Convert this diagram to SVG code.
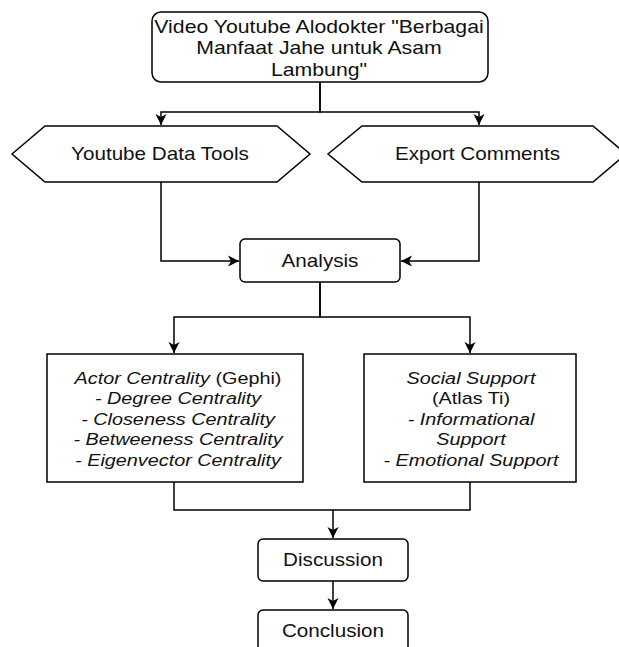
<svg xmlns="http://www.w3.org/2000/svg" width="619" height="647" viewBox="0 0 619 647">
<defs>
<style>
.box{fill:#fff;stroke:#000;stroke-width:1.5}
.ln{fill:none;stroke:#000;stroke-width:1.5}
.t{font-family:"Liberation Sans",Arial,Helvetica,sans-serif;font-size:17.5px;fill:#111;text-anchor:middle}
.big{font-size:18px}
.sm{font-size:16.8px}
.i{font-style:italic}
</style>
<marker id="arr" markerUnits="userSpaceOnUse" markerWidth="12" markerHeight="12" viewBox="0 0 12 12" refX="11" refY="6" orient="auto">
<path d="M0,0.5 L11,6 L0,11.5 L3,6 Z" fill="#000"/>
</marker>
</defs>
<rect width="619" height="647" fill="#fff"/>
<g id="connectors">
<path class="ln" d="M320,82 V112 H161 V125" marker-end="url(#arr)"/>
<path class="ln" d="M320,82 V112 H479 V125" marker-end="url(#arr)"/>
<path class="ln" d="M161,182 V261 H239" marker-end="url(#arr)"/>
<path class="ln" d="M479,182 V261 H401" marker-end="url(#arr)"/>
<path class="ln" d="M320,282 V317 H174 V353" marker-end="url(#arr)"/>
<path class="ln" d="M320,282 V317 H470 V353" marker-end="url(#arr)"/>
<path class="ln" d="M174,482 V510 H333 V538" marker-end="url(#arr)"/>
<path class="ln" d="M470,482 V510 H333"/>
<path class="ln" d="M333,581 V609" marker-end="url(#arr)"/>
</g>
<g id="video">
<rect class="box" x="152" y="12" width="336" height="70" rx="9"/>
<text class="t big" transform="translate(319,0) scale(1.18,1)" x="0" y="33">Video Youtube Alodokter "Berbagai</text>
<text class="t big" transform="translate(319,0) scale(1.18,1)" x="0" y="54.5">Manfaat Jahe untuk Asam</text>
<text class="t big" transform="translate(319,0) scale(1.18,1)" x="0" y="76">Lambung"</text>
</g>
<g id="ytdt">
<polygon class="box" points="12,154 45,126 277,126 310,154 277,182 45,182"/>
<text class="t" transform="translate(160,0) scale(1.18,1)" x="0" y="160">Youtube Data Tools</text>
</g>
<g id="export">
<polygon class="box" points="328,154 362,126 593,126 626,154 593,182 362,182"/>
<text class="t" transform="translate(477.5,0) scale(1.18,1)" x="0" y="160">Export Comments</text>
</g>
<g id="analysis">
<rect class="box" x="240" y="239" width="160" height="43" rx="5"/>
<text class="t" transform="translate(320,0) scale(1.18,1)" x="0" y="267">Analysis</text>
</g>
<g id="actor">
<rect class="box" x="47" y="354" width="256" height="128"/>
<text class="t sm" transform="translate(178,0) scale(1.18,1)" x="0" y="384"><tspan class="i">Actor Centrality</tspan> (Gephi)</text>
<text class="t sm i" transform="translate(178,0) scale(1.18,1)" x="0" y="404.5">- Degree Centrality</text>
<text class="t sm i" transform="translate(178,0) scale(1.18,1)" x="0" y="425">- Closeness Centrality</text>
<text class="t sm i" transform="translate(178,0) scale(1.18,1)" x="0" y="445.5">- Betweeness Centrality</text>
<text class="t sm i" transform="translate(178,0) scale(1.18,1)" x="0" y="466">- Eigenvector Centrality</text>
</g>
<g id="social">
<rect class="box" x="364" y="354" width="212" height="128"/>
<text class="t sm i" transform="translate(471,0) scale(1.18,1)" x="0" y="384">Social Support</text>
<text class="t sm" transform="translate(471,0) scale(1.18,1)" x="0" y="404.5">(Atlas Ti)</text>
<text class="t sm i" transform="translate(471,0) scale(1.18,1)" x="0" y="425">- Informational</text>
<text class="t sm i" transform="translate(471,0) scale(1.18,1)" x="0" y="445.5">Support</text>
<text class="t sm i" transform="translate(471,0) scale(1.18,1)" x="0" y="466">- Emotional Support</text>
</g>
<g id="discussion">
<rect class="box" x="258" y="539" width="150" height="42" rx="5"/>
<text class="t" transform="translate(333,0) scale(1.18,1)" x="0" y="566">Discussion</text>
</g>
<g id="conclusion">
<rect class="box" x="258" y="610" width="150" height="50" rx="5"/>
<text class="t" transform="translate(333,0) scale(1.18,1)" x="0" y="637">Conclusion</text>
</g>
</svg>
